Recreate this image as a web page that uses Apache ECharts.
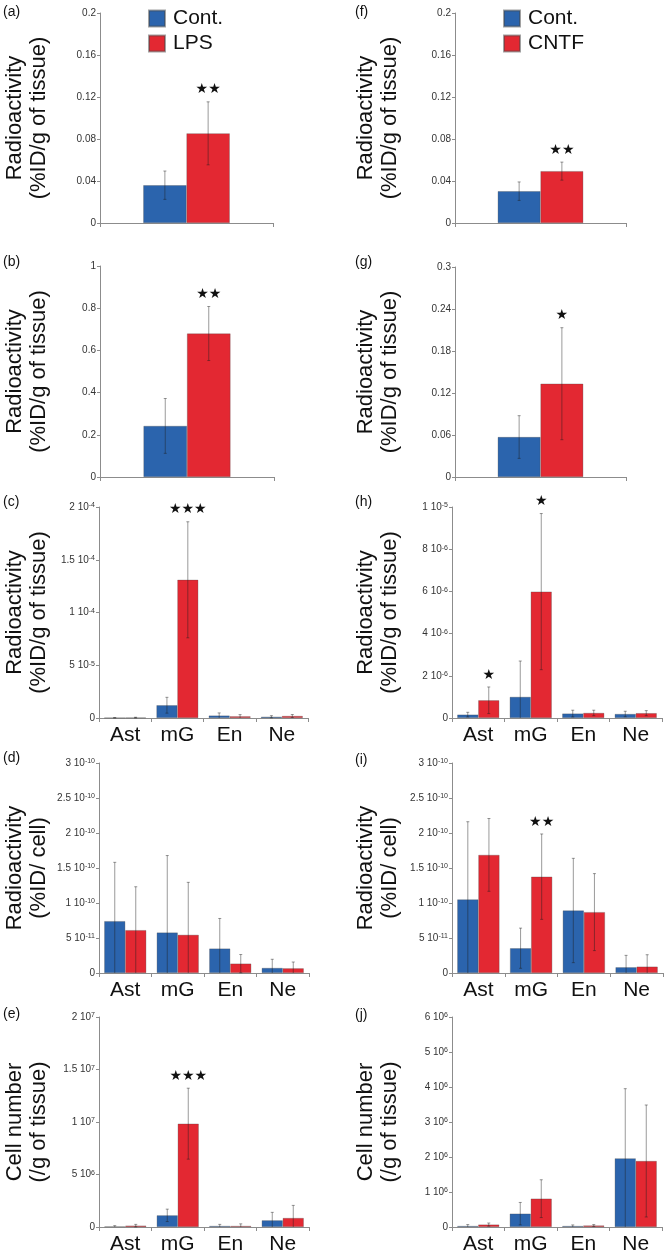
<!DOCTYPE html>
<html>
<head>
<meta charset="utf-8">
<script src="https://cdn.jsdelivr.net/npm/echarts@6/dist/echarts.min.js"></script>
<style>
  html, body { margin: 0; padding: 0; background: #fff; }
  #chart { width: 666px; height: 1254px; }
</style>
</head>
<body>
<div id="chart"></div>
<script>
const FONT = 'Liberation Sans, Arial, sans-serif';
const BLUE = '#2b64ad';
const RED = '#e32832';
const AXIS = '#8c8c8c';

const categories = ['Ast', 'mG', 'En', 'Ne'];
const single = [''];

// (a) LPS, whole brain
const aCont = [0.036], aContErr = [0.0135];
const aLps = [0.0854], aLpsErr = [0.030];
const aStars = ['★★'];
// (b)
const bCont = [0.242], bContErr = [0.13];
const bLps = [0.68], bLpsErr = [0.128];
const bStars = ['★★'];
// (c)
const cCont = [2e-7, 1.21e-5, 2.3e-6, 1.2e-6], cContErr = [1e-7, 0.75e-5, 2.5e-6, 1.0e-6];
const cLps = [4e-7, 1.31e-4, 1.6e-6, 1.9e-6], cLpsErr = [3e-7, 0.55e-4, 1.6e-6, 1.4e-6];
const cStars = ['', '★★★', '', ''];
// (d)
const dCont = [7.41e-11, 5.78e-11, 3.49e-11, 7.2e-12], dContErr = [8.4e-11, 1.1e-10, 4.3e-11, 1.24e-11];
const dLps = [6.12e-11, 5.45e-11, 1.34e-11, 6.7e-12], dLpsErr = [6.2e-11, 7.5e-11, 1.3e-11, 9e-12];
const dStars = ['', '', '', ''];
// (e)
const eCont = [6e4, 1.11e6, 1.0e5, 6.35e5], eContErr = [7e4, 5.9e5, 1.5e5, 7.6e5];
const eLps = [1.3e5, 9.84e6, 1.0e5, 8.57e5], eLpsErr = [1.2e5, 3.38e6, 2e5, 1.2e6];
const eStars = ['', '★★★', '', ''];
// (f) CNTF
const fCont = [0.0303], fContErr = [0.0088];
const fCntf = [0.0494], fCntfErr = [0.0086];
const fStars = ['★★'];
// (g)
const gCont = [0.0571], gContErr = [0.0305];
const gCntf = [0.1333], gCntfErr = [0.080];
const gStars = ['★'];
// (h)
const hCont = [1.6e-7, 1.0e-6, 2.1e-7, 1.9e-7], hContErr = [1.1e-7, 1.7e-6, 1.6e-7, 1.3e-7];
const hCntf = [8.4e-7, 5.99e-6, 2.4e-7, 2.3e-7], hCntfErr = [6.3e-7, 3.7e-6, 1.3e-7, 1.2e-7];
const hStars = ['★', '★', '', ''];
// (i)
const iCont = [1.051e-10, 3.54e-11, 8.93e-11, 8.2e-12], iContErr = [1.11e-10, 2.87e-11, 7.45e-11, 1.7e-11];
const iCntf = [1.687e-10, 1.376e-10, 8.7e-11, 9.1e-12], iCntfErr = [0.52e-10, 6.1e-11, 5.5e-11, 1.7e-11];
const iStars = ['', '★★', '', ''];
// (j)
const jCont = [2.9e4, 3.81e5, 2.9e4, 1.962e6], jContErr = [4e4, 3.2e5, 3e4, 1.99e6];
const jCntf = [6.9e4, 8.1e5, 4.3e4, 1.886e6], jCntfErr = [4.5e4, 5.4e5, 2.7e4, 1.6e6];
const jStars = ['', '', '', ''];

const RADIO_G = 'Radioactivity\n(%ID/g of tissue)';
const RADIO_C = 'Radioactivity\n(%ID/ cell)';
const CELLS = 'Cell number\n(/g of tissue)';

function dec(v) { return String(parseFloat(v.toPrecision(6))); }
function sci(v) {
  if (v === 0) return '0';
  const e = Math.floor(Math.log10(v) + 1e-9);
  const m = parseFloat((v / Math.pow(10, e)).toPrecision(4));
  return m + ' 10{sup|' + e + '}';
}

// grid: [left, top, width, height]; tag: [left, top]
const panels = [
  { tag: '(a)', tagPos: [3, 5], grid: [100, 13, 173, 210], cats: single, max: 0.2, step: 0.04, fmt: dec, name: RADIO_G,
    cont: aCont, contErr: aContErr, trt: aLps, trtErr: aLpsErr, stars: aStars, trtName: 'LPS' },
  { tag: '(b)', tagPos: [3, 255], grid: [100, 266, 174, 211], cats: single, max: 1, step: 0.2, fmt: dec, name: RADIO_G,
    cont: bCont, contErr: bContErr, trt: bLps, trtErr: bLpsErr, stars: bStars, trtName: 'LPS' },
  { tag: '(c)', tagPos: [3, 495], grid: [99, 507, 209, 211], cats: categories, max: 2e-4, step: 5e-5, fmt: sci, name: RADIO_G,
    cont: cCont, contErr: cContErr, trt: cLps, trtErr: cLpsErr, stars: cStars, trtName: 'LPS' },
  { tag: '(d)', tagPos: [3, 751], grid: [99, 763, 210, 210], cats: categories, max: 3e-10, step: 5e-11, fmt: sci, name: RADIO_C,
    cont: dCont, contErr: dContErr, trt: dLps, trtErr: dLpsErr, stars: dStars, trtName: 'LPS' },
  { tag: '(e)', tagPos: [3, 1007], grid: [99, 1017, 210, 210], cats: categories, max: 2e7, step: 5e6, fmt: sci, name: CELLS,
    cont: eCont, contErr: eContErr, trt: eLps, trtErr: eLpsErr, stars: eStars, trtName: 'LPS' },
  { tag: '(f)', tagPos: [355, 5], grid: [455, 13, 171, 210], cats: single, max: 0.2, step: 0.04, fmt: dec, name: RADIO_G,
    cont: fCont, contErr: fContErr, trt: fCntf, trtErr: fCntfErr, stars: fStars, trtName: 'CNTF' },
  { tag: '(g)', tagPos: [355, 255], grid: [455, 267, 171, 210], cats: single, max: 0.3, step: 0.06, fmt: dec, name: RADIO_G,
    cont: gCont, contErr: gContErr, trt: gCntf, trtErr: gCntfErr, stars: gStars, trtName: 'CNTF' },
  { tag: '(h)', tagPos: [355, 495], grid: [452, 507, 210, 211], cats: categories, max: 1e-5, step: 2e-6, fmt: sci, name: RADIO_G,
    cont: hCont, contErr: hContErr, trt: hCntf, trtErr: hCntfErr, stars: hStars, trtName: 'CNTF' },
  { tag: '(i)', tagPos: [355, 753], grid: [452, 763, 211, 210], cats: categories, max: 3e-10, step: 5e-11, fmt: sci, name: RADIO_C,
    cont: iCont, contErr: iContErr, trt: iCntf, trtErr: iCntfErr, stars: iStars, trtName: 'CNTF' },
  { tag: '(j)', tagPos: [355, 1008], grid: [452, 1017, 210, 210], cats: categories, max: 6e6, step: 1e6, fmt: sci, name: CELLS,
    cont: jCont, contErr: jContErr, trt: jCntf, trtErr: jCntfErr, stars: jStars, trtName: 'CNTF' },
];

function errSeries(gi, vals, errs, side, gap, stars) {
  return {
    type: 'custom',
    xAxisIndex: gi,
    yAxisIndex: gi,
    z: 5,
    silent: true,
    clip: false,
    data: vals.map((v, i) => [i, v, errs[i]]),
    encode: { x: 0, y: 1 },
    renderItem: (params, api) => {
      const i = api.value(0), v = api.value(1), e = api.value(2);
      const band = api.size([1, 0])[0];
      const barW = band * (1 - gap) / 2;
      const cx = api.coord([i, v])[0] + side * barW / 2;
      const yTop = api.coord([i, v + e])[1];
      const low = Math.max(0, v - e);
      const yBot = api.coord([i, low])[1];
      const st = { stroke: 'rgba(30,30,30,0.45)', lineWidth: 1 };
      const children = [
        { type: 'line', shape: { x1: cx, y1: yTop, x2: cx, y2: yBot }, style: st },
        { type: 'line', shape: { x1: cx - 1.5, y1: yTop, x2: cx + 1.5, y2: yTop }, style: st },
      ];
      if (low > 0) {
        children.push({ type: 'line', shape: { x1: cx - 1.5, y1: yBot, x2: cx + 1.5, y2: yBot }, style: st });
      }
      if (stars && stars[i]) {
        children.push({
          type: 'text', x: cx, y: yTop - 5,
          style: { text: stars[i], align: 'center', verticalAlign: 'bottom', fontSize: 14, fontFamily: 'DejaVu Sans', fill: '#111' }
        });
      }
      return { type: 'group', children };
    }
  };
}

const grid = [], xAxis = [], yAxis = [], series = [], title = [];
panels.forEach((p, gi) => {
  const [l, t, w, h] = p.grid;
  const right = l > 300;
  const gap = p.cats.length > 1 ? 0.2 : 0.5;
  grid.push({ left: l, top: t, width: w, height: h, outerBoundsMode: 'none' });
  title.push({ text: p.tag, left: p.tagPos[0], top: p.tagPos[1], padding: 0,
    textStyle: { fontSize: 14, fontWeight: 'normal', color: '#111', fontFamily: FONT } });
  xAxis.push({
    gridIndex: gi, type: 'category', data: p.cats,
    axisLine: { show: true, lineStyle: { color: AXIS, width: 1 } },
    axisTick: { show: true, length: 4, lineStyle: { color: AXIS } },
    axisLabel: { show: p.cats.length > 1, fontSize: 21, color: '#111', margin: 7, fontFamily: FONT },
    splitLine: { show: false }
  });
  yAxis.push({
    gridIndex: gi, type: 'value', min: 0, max: p.max, interval: p.step,
    name: p.name, nameLocation: 'middle', nameRotate: 90,
    nameGap: right ? l - 402 : l - 51,
    nameMoveOverlap: false,
    nameTextStyle: { fontSize: 22, lineHeight: 24, fontFamily: FONT, color: '#111' },
    axisLine: { show: true, lineStyle: { color: AXIS, width: 1 } },
    axisTick: { show: true, length: 3, lineStyle: { color: AXIS } },
    splitLine: { show: false },
    axisLabel: {
      fontSize: 10, color: '#333', margin: 4, fontFamily: FONT, formatter: p.fmt,
      rich: { sup: { fontSize: 7, lineHeight: 8, verticalAlign: 'top', color: '#333', fontFamily: FONT } }
    }
  });
  const barCommon = {
    type: 'bar', xAxisIndex: gi, yAxisIndex: gi, barGap: '0%',
    barCategoryGap: (gap * 100) + '%'
  };
  series.push(Object.assign({}, barCommon, {
    name: 'Cont.', data: p.cont,
    itemStyle: { color: BLUE, borderColor: 'rgba(70,70,70,0.5)', borderWidth: 0.6 }
  }));
  series.push(Object.assign({}, barCommon, {
    name: p.trtName, data: p.trt,
    itemStyle: { color: RED, borderColor: 'rgba(70,70,70,0.5)', borderWidth: 0.6 }
  }));
  series.push(errSeries(gi, p.cont, p.contErr, -1, gap, null));
  series.push(errSeries(gi, p.trt, p.trtErr, 1, gap, p.stars));
});

const legendCommon = {
  orient: 'vertical', icon: 'rect', itemWidth: 16, itemHeight: 16, itemGap: 4, padding: 0,
  selectedMode: false,
  textStyle: { fontSize: 21, color: '#111', fontFamily: FONT, padding: [0, 0, 0, 3] }
};

const chart = echarts.init(document.getElementById('chart'));
chart.setOption({
  animation: false,
  backgroundColor: '#fff',
  title,
  legend: [
    Object.assign({}, legendCommon, { data: ['Cont.', 'LPS'], left: 148, top: 8 }),
    Object.assign({}, legendCommon, { data: ['Cont.', 'CNTF'], left: 503, top: 8 })
  ],
  grid, xAxis, yAxis, series
});
</script>
</body>
</html>
